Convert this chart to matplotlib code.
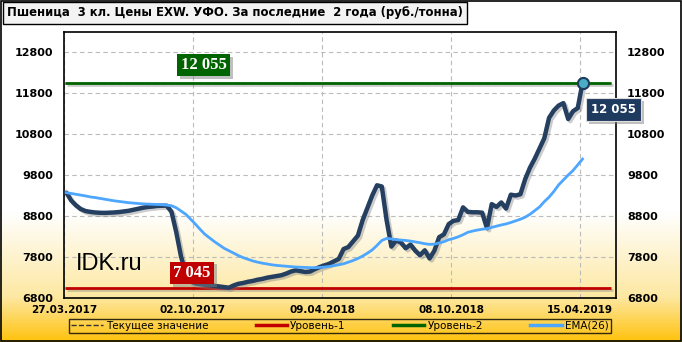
import numpy as np
import matplotlib
matplotlib.use("Agg")
import matplotlib.pyplot as plt
import matplotlib.patheffects as pe
from matplotlib.colors import LinearSegmentedColormap
from matplotlib.patches import Rectangle
from matplotlib.lines import Line2D

# weekly prices, rub/ton
price = [9370, 9180, 9060, 8970, 8920, 8900, 8885, 8878, 8875, 8880,
         8885, 8895, 8910, 8925, 8950, 8975, 9000, 9020, 9030, 9045,
         9050, 9050, 8900, 8400, 7800, 7400, 7200, 7150, 7130, 7115,
         7105, 7090, 7075, 7060, 7045, 7100, 7140, 7160, 7190, 7210,
         7240, 7260, 7290, 7310, 7330, 7350, 7390, 7440, 7470, 7450,
         7430, 7440, 7500, 7550, 7590, 7630, 7690, 7750, 7990, 8040,
         8180, 8320, 8700, 9000, 9300, 9550, 9520, 8700, 8050, 8200,
         8150, 8010, 8100, 7950, 7840, 7960, 7760, 7950, 8280, 8350,
         8600, 8680, 8700, 9010, 8900, 8890, 8890, 8880, 8500, 9090,
         9020, 9130, 8980, 9320, 9300, 9330, 9700, 9980, 10200, 10450,
         10700, 11200, 11380, 11500, 11560, 11170, 11360, 11440, 12055]

ema = [9370, 9350, 9330, 9310, 9290, 9265, 9250, 9230, 9210, 9190,
       9170, 9155, 9140, 9125, 9115, 9105, 9095, 9090, 9085, 9080,
       9075, 9065, 9050, 9000, 8920, 8840, 8720, 8600, 8470, 8350,
       8260, 8170, 8090, 8010, 7950, 7890, 7830, 7780, 7740, 7700,
       7670, 7645, 7625, 7605, 7590, 7580, 7570, 7560, 7550, 7545,
       7540, 7535, 7535, 7540, 7550, 7565, 7585, 7605, 7630, 7670,
       7710, 7760, 7820, 7890, 7970, 8080, 8200, 8250, 8240, 8220,
       8210, 8200, 8185, 8165, 8145, 8120, 8105, 8110, 8140, 8170,
       8220, 8250, 8290, 8340, 8400, 8430, 8455, 8475, 8490, 8520,
       8550, 8580, 8605, 8640, 8680, 8720, 8770, 8840, 8930, 9020,
       9150, 9260, 9400, 9560, 9680, 9800, 9910, 10050, 10192]

level1 = 7045
level2 = 12055
current = 12055

tick_labels = ["27.03.2017", "02.10.2017", "09.04.2018", "08.10.2018", "15.04.2019"]
tick_pos = [-0.5, 26.5, 53.5, 80.5, 107.5]
yticks = [6800, 7800, 8800, 9800, 10800, 11800, 12800]

x = np.arange(len(price))

fig = plt.figure(figsize=(6.82, 3.42), dpi=100)

# background gradient, white on top -> gold at bottom
bg = fig.add_axes([0, 0, 1, 1], zorder=-10)
cmap = LinearSegmentedColormap.from_list(
    "bg", [(0, "#FFFFFF"), (0.62, "#FFFFFF"), (0.87, "#FDE8A2"), (1.0, "#FFC20E")])
grad = np.linspace(0, 1, 342).reshape(-1, 1)
bg.imshow(grad, cmap=cmap, aspect="auto", extent=[0, 1, 0, 1], origin="upper")
bg.axis("off")
bg.add_patch(Rectangle((0.001, 0.002), 0.997, 0.995, fill=False, ec="black", lw=1.2,
                       transform=bg.transAxes))

ax = fig.add_axes([0.0938, 0.1295, 0.8094, 0.777])
ax.set_facecolor("none")

shadow = [pe.SimpleLineShadow(offset=(1.5, -1.5), shadow_color="gray", alpha=0.4), pe.Normal()]

ax.hlines(current, -0.2, 114, colors="#333333", linestyles="--", lw=1, zorder=2)
ax.hlines(level1, -0.2, 114, colors="#C00000", lw=2, zorder=3, path_effects=shadow)
ax.hlines(level2, -0.2, 114, colors="#006400", lw=2, zorder=3, path_effects=shadow)
ax.plot(x, price, color="#243F60", lw=3.2, solid_capstyle="round", zorder=4,
        path_effects=shadow)
ax.plot(x, ema, color="#4DA6FF", lw=2, zorder=5)
ax.plot(x[-1], price[-1], "o", ms=8, mfc="#4BACC6", mec="#1F3A5F", mew=1.5, zorder=6)

ax.set_xlim(-0.5, 115)
ax.set_ylim(6800, 13300)
ax.set_xticks(tick_pos)
ax.set_xticklabels(tick_labels, fontsize=7.5, fontweight="bold")
ax.set_yticks(yticks)
ax.set_yticklabels([str(v) for v in yticks], fontsize=8, fontweight="bold")
ax.tick_params(length=0, labelright=True, pad=8)
ax.tick_params(axis="x", pad=5)
ax.grid(color="#BBBBBB", ls=(0, (4, 3)), lw=0.8)
for s in ax.spines.values():
    s.set_linewidth(1.2)

shadow_box = [pe.withSimplePatchShadow(offset=(2, -2), shadow_rgbFace="gray", alpha=0.5)]

t1 = ax.text(28.7, 12490, "12 055", color="white", fontsize=12, fontweight="bold",
             family="Liberation Serif", ha="center", va="center", zorder=7,
             bbox=dict(boxstyle="square,pad=0.2", fc="#006400", ec="none"))
t2 = ax.text(26.3, 7404, "7 045", color="white", fontsize=12, fontweight="bold",
             family="Liberation Serif", ha="center", va="center", zorder=7,
             bbox=dict(boxstyle="square,pad=0.2", fc="#C00000", ec="none"))
t3 = ax.text(114.5, 11400, "12 055", color="white", fontsize=8.5, fontweight="bold",
             ha="center", va="center", zorder=7, clip_on=False,
             bbox=dict(boxstyle="square,pad=0.4", fc="#1F3A5F", ec="#DDDDDD", lw=0.8))
for t in (t1, t2, t3):
    t.get_bbox_patch().set_path_effects(shadow_box)

ax.text(2, 7620, "IDK.ru", fontsize=17, family="Liberation Sans", va="center", zorder=7)

# title box
fig.text(0.01, 0.962, "Пшеница  3 кл. Цены EXW. УФО. За последние  2 года (руб./тонна)",
         fontsize=8.4, fontweight="bold", va="center", ha="left",
         bbox=dict(boxstyle="square,pad=0.35", fc="#F3F3F3", ec="black", lw=1))

# legend
handles = [Line2D([], [], color="#333333", ls="--", lw=1),
           Line2D([], [], color="#C00000", lw=2.5),
           Line2D([], [], color="#006400", lw=2.5),
           Line2D([], [], color="#4DA6FF", lw=2.5)]
labels = ["Текущее значение", "Уровень-1", "Уровень-2", "EMA(26)"]
leg = fig.legend(handles, labels, ncol=4, loc="lower left",
                 bbox_to_anchor=(0.094, 0.012, 0.809, 0.052), mode="expand",
                 fontsize=7.5, frameon=True, fancybox=False, handlelength=3,
                 borderpad=0.2, handletextpad=0.3)
leg.get_frame().set_facecolor("none")
leg.get_frame().set_edgecolor("black")
leg.get_frame().set_linewidth(1)

fig.savefig("out.png", dpi=100)
